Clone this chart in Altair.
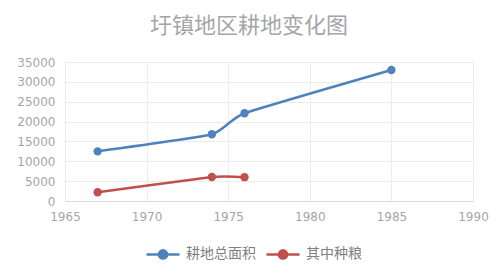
import altair as alt
import pandas as pd

years_total = [1967, 1974, 1976, 1985]
values_total = [12500, 16800, 22100, 33000]
years_grain = [1967, 1974, 1976]
values_grain = [2200, 6050, 6000]
series_names = ["耕地总面积", "其中种粮"]
series_colors = ["#4f81bd", "#c0504d"]

rows = []
for y, v in zip(years_total, values_total):
    rows.append({"year": y, "value": v, "series": series_names[0]})
for y, v in zip(years_grain, values_grain):
    rows.append({"year": y, "value": v, "series": series_names[1]})
df = pd.DataFrame(rows)

legend_path = "M-1,0L1,0M-0.25,0A0.25,0.25,0,1,0,0.25,0A0.25,0.25,0,1,0,-0.25,0Z"

color = alt.Color(
    "series:N",
    scale=alt.Scale(domain=series_names, range=series_colors),
    sort=series_names,
    legend=alt.Legend(
        title=None,
        orient="none",
        direction="horizontal",
        legendX=80,
        legendY=174,
        symbolType=legend_path,
        symbolSize=1089,
        symbolStrokeWidth=2.5,
        symbolOpacity=1,
        labelFont="Noto Sans CJK SC",
        labelFontSize=14,
        labelColor="#808080",
        labelOffset=5,
        columnPadding=5,
        padding=0,
    ),
)

x = alt.X(
    "year:Q",
    scale=alt.Scale(domain=[1965, 1990], nice=False, zero=False),
    axis=alt.Axis(
        values=[1965, 1970, 1975, 1980, 1985, 1990],
        format="d",
        title=None,
        ticks=False,
        domain=True,
        domainColor="#d9d9d9",
        grid=True,
        gridColor="#ececec",
        labelColor="#a6a6a6",
        labelFont="DejaVu Sans",
        labelFontSize=12,
        labelPadding=10,
        labelFlush=False,
    ),
)
y = alt.Y(
    "value:Q",
    scale=alt.Scale(domain=[0, 35000], nice=False),
    axis=alt.Axis(
        values=[0, 5000, 10000, 15000, 20000, 25000, 30000, 35000],
        format="d",
        title=None,
        ticks=False,
        domain=False,
        grid=True,
        gridColor="#ececec",
        labelColor="#a6a6a6",
        labelFont="DejaVu Sans",
        labelFontSize=12,
        labelPadding=10,
    ),
)

base = alt.Chart(df).encode(x=x, y=y, color=color)
lines = base.mark_line(interpolate="cardinal", tension=0.55, strokeWidth=2.5)
points = base.mark_circle(size=70, opacity=1)

chart = (
    alt.layer(lines, points)
    .properties(
        width=408,
        height=139,
        autosize=alt.AutoSizeParams(type="none"),
        padding={"left": 65, "top": 62, "right": 27, "bottom": 76},
        title=alt.TitleParams(
            "圩镇地区耕地变化图",
            font="Noto Sans CJK SC",
            fontSize=22,
            fontWeight="normal",
            color="#a6a6a6",
            anchor="middle",
            dx=-20,
            offset=18,
        ),
        background="white",
    )
    .configure_view(stroke="#ececec")
)

chart.save("out.html", embed_options={"renderer": "svg", "actions": False})
